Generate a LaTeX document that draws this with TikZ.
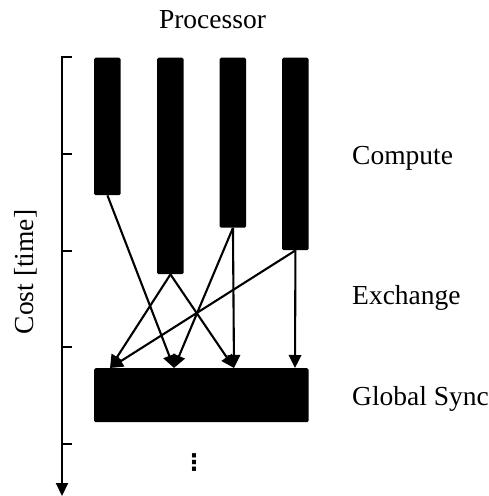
\documentclass[tikz,border=0pt]{standalone}
\usepackage{fontspec}
\setmainfont{Liberation Serif}
\newfontfamily\dotsfont{DejaVu Sans Bold}
\usetikzlibrary{arrows.meta}
\tikzset{
  bar/.style={fill=black, draw=none, rounded corners=1.5pt, inner sep=0pt, minimum width=26.5pt, anchor=north west},
  flow/.style={line width=2.1pt, -{Triangle[length=13pt,width=12.5pt]}},
  lbl/.style={font=\fontsize{27.5}{30}\selectfont, inner sep=0pt},
  tick/.style={line width=2.1pt}
}
\begin{document}
\begin{tikzpicture}[x=1pt,y=-1pt]
\useasboundingbox (0,0) rectangle (489,496);
% axis
\coordinate (atop) at (62,57);
\coordinate (abot) at (62,496);
\draw[line width=2.1pt, -{Triangle[length=13pt,width=12pt]}] (atop) -- (abot);
\foreach \yy in {57,154,251,347,444} \draw[tick] (60.95,\yy) -- (72,\yy);
\node[lbl, rotate=90, anchor=base] (cost) at (34,272) {Cost [time]};
% bars
\node[bar, minimum height=137.5pt] (p1) at (94,57.5) {};
\node[bar, minimum height=216.5pt] (p2) at (157,57.5) {};
\node[bar, minimum height=170pt] (p3) at (219.5,57.5) {};
\node[bar, minimum height=192.5pt] (p4) at (282,57.5) {};
\node[bar, minimum width=214.5pt, minimum height=54pt] (sync) at (94,368) {};
% targets
\coordinate (t1) at (110,368);
\coordinate (t2) at (174,368);
\coordinate (t3) at (234,368);
\coordinate (t4) at (295,368);
\draw[flow] (p1.south) -- (t2);
\draw[flow] (p2.south) -- (t1);
\draw[flow] (p2.south) -- (t3);
\draw[flow] (p3.south) -- (t2);
\draw[flow] (p3.south) -- (t3);
\draw[flow] (p4.south) -- (t1);
\draw[flow] (p4.south) -- (t4);
% labels
\node[lbl, anchor=base] (proc) at (212.5,28) {Processor};
\node[lbl, anchor=base west] (comp) at (352,164) {Compute};
\node[lbl, anchor=base west] (exch) at (352,304) {Exchange};
\node[lbl, anchor=base west] (gsync) at (352,405) {Global Sync};
\node[inner sep=0pt, font=\dotsfont\fontsize{23}{25}\selectfont] (dots) at (194,463) {⋮};
\end{tikzpicture}
\end{document}
